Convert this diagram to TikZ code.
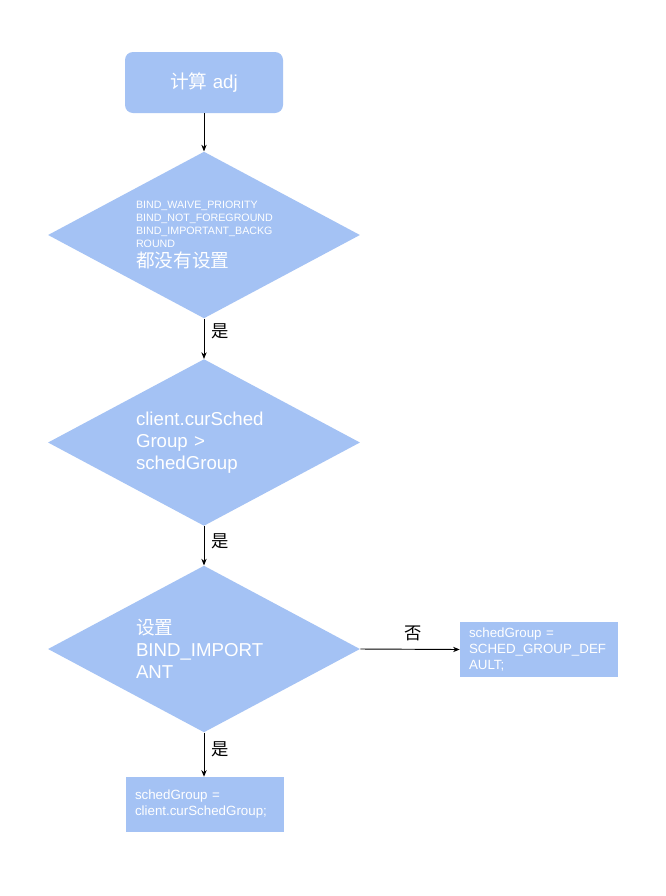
\documentclass[tikz,border=0pt]{standalone}
\usepackage{fontspec}
\setmainfont{Liberation Sans}
\newfontfamily\cjk{Noto Sans CJK SC}
\usetikzlibrary{shapes.geometric,arrows.meta}
\definecolor{boxblue}{HTML}{A4C2F4}
\tikzset{
  startbox/.style={draw=none, fill=boxblue, rounded corners=6pt, minimum width=118.5pt, minimum height=45.75pt, inner sep=0pt, text=white, font=\fontsize{14}{16}\selectfont},
  decision/.style={shape=diamond, draw=none, fill=boxblue, aspect=1.88, minimum width=234pt, minimum height=125pt, inner sep=0pt, text=white, text width=102pt, align=left},
  procbox/.style={draw=none, fill=boxblue, minimum width=118.5pt, minimum height=41.25pt, inner sep=0pt, text=white, text width=105pt, align=left, font=\fontsize{10}{12}\selectfont},
  flow/.style={draw=black, line width=0.7pt, -{Stealth[length=5pt,width=4pt]}},
  lbl/.style={font=\cjk\fontsize{13}{15}\selectfont, text=black, inner sep=0pt}
}
\begin{document}
\begin{tikzpicture}[x=0.75pt, y=-0.75pt]
\useasboundingbox (0,0) rectangle (666,896);
\fill[white] (0,0) rectangle (666,896);
\node[startbox] (start) at (204,82.5) {{\cjk 计算} adj};
\node[decision, font=\fontsize{8}{9.75}\selectfont] (d1) at (204,235) {BIND\_WAIVE\_PRIORITY\\BIND\_NOT\_FOREGROUND\\BIND\_IMPORTANT\_BACKG\\ROUND\\[2pt]{\cjk\fontsize{14}{16}\selectfont 都没有设置}};
\node[decision, font=\fontsize{14}{16.5}\selectfont] (d2) at (204,442.5) {client.curSched\\Group >\\schedGroup};
\node[decision, font=\fontsize{14}{16.5}\selectfont] (d3) at (204,649) {{\cjk 设置}\\BIND\_IMPORT\\ANT};
\node[procbox] (def) at (539,649.5) {schedGroup =\\SCHED\_GROUP\_DEF\\AULT;};
\node[procbox] (cur) at (205,804.5) {schedGroup =\\client.curSchedGroup;};
\draw[flow] (start) -- (d1);
\draw[flow] (d1) -- (d2);
\draw[flow] (d2) -- (d3);
\draw[flow] (d3.east) -- (def.west);
\draw[flow] (d3.south) -- (d3.south |- cur.north);
\node[lbl] (y1) at (220,331) {是};
\node[lbl] (y2) at (220,541) {是};
\node[lbl] (y3) at (220,749) {是};
\node[lbl] (n1) at (413,633) {否};
\end{tikzpicture}
\end{document}
